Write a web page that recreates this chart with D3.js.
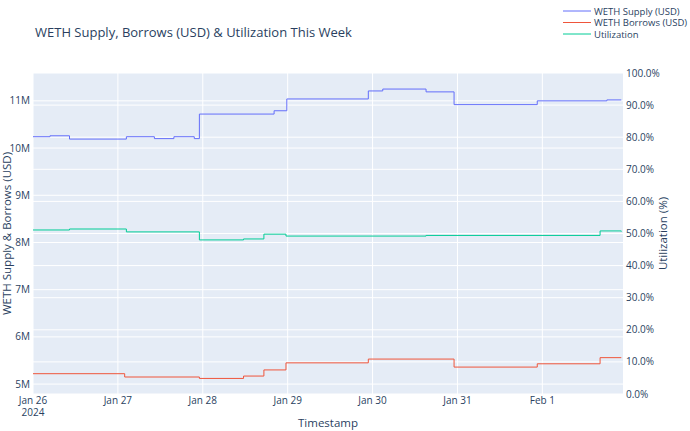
<!DOCTYPE html>
<html><head><meta charset="utf-8">
<script src="https://cdn.jsdelivr.net/npm/d3@7"></script>
<style>body{margin:0;background:#fff;font-family:"Open Sans",Arial,sans-serif}</style>
</head><body><div id="chart"></div>
<script>
// step data: [day offset from Jan 26 00:00, value]
var supplySteps = [[0,10.24],[0.2,10.26],[0.43,10.19],[1.1,10.24],[1.43,10.2],[1.66,10.24],[1.9,10.2],[1.96,10.72],[2.84,10.79],[2.99,11.04],[3.95,11.21],[4.12,11.25],[4.63,11.19],[4.96,10.92],[5.94,11.0],[6.76,11.02],[6.93,11.02]];
var borrowSteps = [[0,5.22],[1.08,5.15],[1.96,5.12],[2.48,5.17],[2.72,5.30],[2.98,5.45],[3.95,5.53],[4.96,5.36],[5.94,5.43],[6.68,5.56],[6.93,5.56]];
var utilSteps = [[0,51.1],[0.43,51.4],[1.1,50.5],[1.96,48.0],[2.48,48.3],[2.72,49.8],[2.98,49.2],[4.63,49.4],[6.68,50.8],[6.93,50.6]];
var leftTicks = [5,6,7,8,9,10,11];
var rightTicks = [0,10,20,30,40,50,60,70,80,90,100];
var dayLabels = ["Jan 26","Jan 27","Jan 28","Jan 29","Jan 30","Jan 31","Feb 1"];
var names = ["WETH Supply (USD)","WETH Borrows (USD)","Utilization"];
var colors = ["#636efa","#EF553B","#00cc96"];

var W = 690, H = 431, m = {l:33, r:67, t:73, b:37};
var svg = d3.select("#chart").append("svg").attr("width", W).attr("height", H);
var t0 = new Date(2024,0,26);
var toDate = function(d){ return new Date(t0.getTime() + d*86400000); };
var x = d3.scaleTime().domain([t0, toDate(6.95)]).range([m.l, W-m.r]);
var yL = d3.scaleLinear().domain([4.79,11.59]).range([H-m.b, m.t]);
var yR = d3.scaleLinear().domain([0,100]).range([H-m.b, m.t]);

svg.append("rect").attr("x",m.l).attr("y",m.t).attr("width",W-m.l-m.r).attr("height",H-m.t-m.b).attr("fill","#e5ecf6");
var g = svg.append("g");
dayLabels.forEach(function(l,i){
  g.append("line").attr("x1",x(toDate(i))).attr("x2",x(toDate(i))).attr("y1",m.t).attr("y2",H-m.b).attr("stroke","#fff");
  g.append("text").attr("x",x(toDate(i))).attr("y",H-m.b+10).attr("text-anchor","middle").attr("font-size",10).attr("fill","#2a3f5f").text(l);
});
g.append("text").attr("x",x(t0)).attr("y",H-m.b+22).attr("text-anchor","middle").attr("font-size",10).attr("fill","#2a3f5f").text("2024");
rightTicks.forEach(function(v){
  g.append("line").attr("x1",m.l).attr("x2",W-m.r).attr("y1",yR(v)).attr("y2",yR(v)).attr("stroke","#fff");
  g.append("text").attr("x",W-m.r+3).attr("y",yR(v)+3.5).attr("font-size",10).attr("fill","#2a3f5f").text(v.toFixed(1)+"%");
});
leftTicks.forEach(function(v){
  g.append("line").attr("x1",m.l).attr("x2",W-m.r).attr("y1",yL(v)).attr("y2",yL(v)).attr("stroke","#fff");
  g.append("text").attr("x",m.l-3).attr("y",yL(v)+3.5).attr("text-anchor","end").attr("font-size",10).attr("fill","#2a3f5f").text(v+"M");
});

var line = function(ys){ return d3.line().curve(d3.curveStepAfter).x(function(d){return x(toDate(d[0]));}).y(function(d){return ys(d[1]);}); };
[[supplySteps,yL],[borrowSteps,yL],[utilSteps,yR]].forEach(function(s,i){
  svg.append("path").datum(s[0]).attr("d",line(s[1])).attr("fill","none").attr("stroke",colors[i]).attr("stroke-width",1);
});

svg.append("text").attr("x",35).attr("y",37).attr("font-size",13).attr("fill","#2a3f5f").text("WETH Supply, Borrows (USD) & Utilization This Week");
svg.append("text").attr("x",(m.l+W-m.r)/2).attr("y",H-4).attr("text-anchor","middle").attr("font-size",11.5).attr("fill","#2a3f5f").text("Timestamp");
svg.append("text").attr("transform","translate(11,"+((m.t+H-m.b)/2)+") rotate(-90)").attr("text-anchor","middle").attr("font-size",11.5).attr("fill","#2a3f5f").text("WETH Supply & Borrows (USD)");
svg.append("text").attr("transform","translate(667,"+((m.t+H-m.b)/2)+") rotate(-90)").attr("text-anchor","middle").attr("font-size",11.5).attr("fill","#2a3f5f").text("Utilization (%)");

names.forEach(function(n,i){
  var yy = 11 + i*11.5;
  svg.append("line").attr("x1",563).attr("x2",591).attr("y1",yy).attr("y2",yy).attr("stroke",colors[i]);
  svg.append("text").attr("x",594).attr("y",yy+3.5).attr("font-size",9.5).attr("fill","#2a3f5f").text(n);
});
</script></body></html>
